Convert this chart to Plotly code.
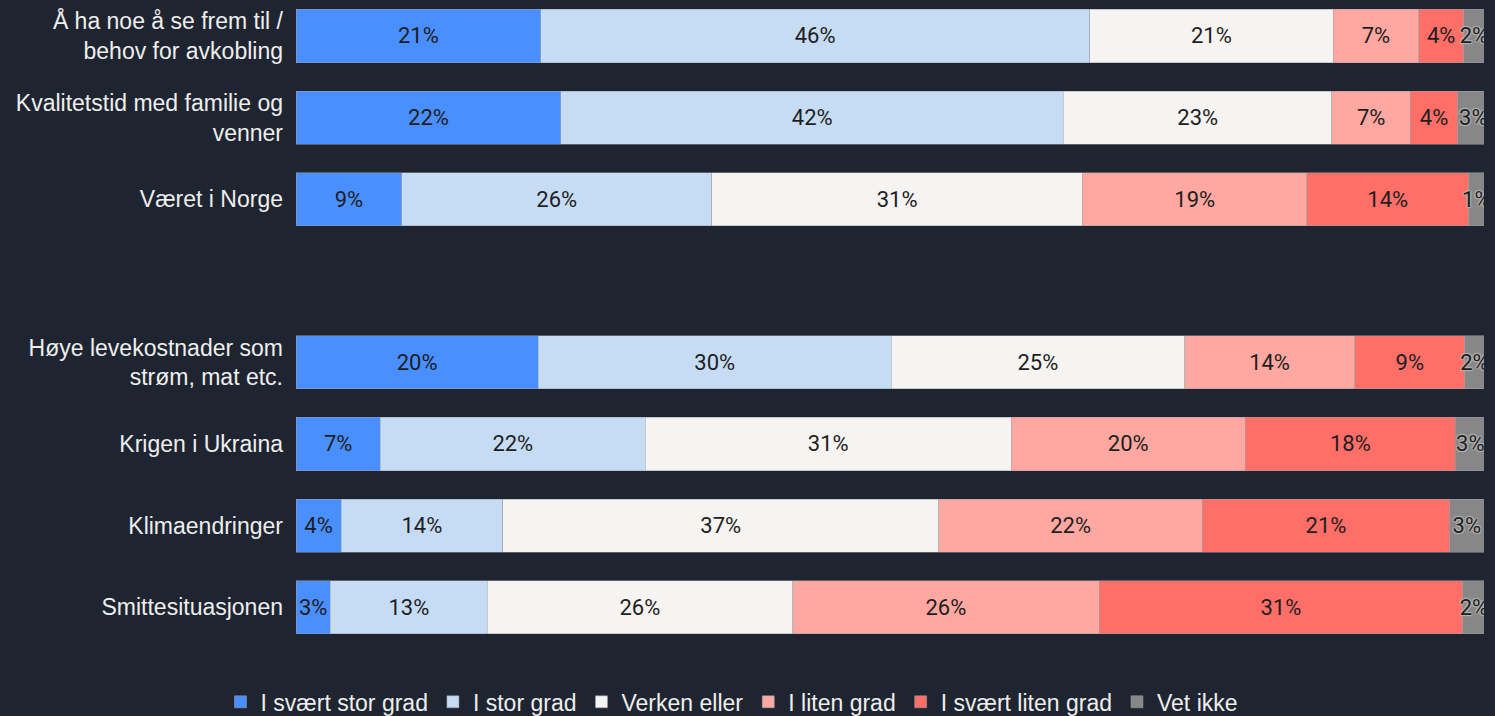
import plotly.graph_objects as go

# categories top to bottom; the blank entry is a spacer row
categories = [
    'Å ha noe å se frem til /<br>behov for avkobling',
    'Kvalitetstid med familie og<br>venner',
    'Været i Norge',
    ' ',
    'Høye levekostnader som<br>strøm, mat etc.',
    'Krigen i Ukraina',
    'Klimaendringer',
    'Smittesituasjonen',
]

svaert_stor = [20.6, 22.3, 8.9, None, 20.4, 7.1, 3.8, 2.9]
stor = [46.2, 42.3, 26.1, None, 29.7, 22.3, 13.6, 13.2]
verken = [20.5, 22.6, 31.2, None, 24.7, 30.8, 36.7, 25.7]
liten = [7.2, 6.6, 18.9, None, 14.3, 19.7, 22.2, 25.8]
svaert_liten = [3.8, 4.0, 13.6, None, 9.3, 17.7, 20.8, 30.6]
vet_ikke = [1.7, 2.6, 1.3, None, 1.6, 2.5, 2.9, 1.9]

series = [
    ('I svært stor grad', svaert_stor, '#4a8fff'),
    ('I stor grad', stor, '#c6dcf5'),
    ('Verken eller', verken, '#f5f4f2'),
    ('I liten grad', liten, '#ffa8a1'),
    ('I svært liten grad', svaert_liten, '#ff6f68'),
    ('Vet ikke', vet_ikke, '#878787'),
]

fig = go.Figure()
for name, values, color in series:
    shadow = 'none'
    if name == 'Vet ikke':
        # the grey segment's labels get a light halo in the original
        shadow = '-1px -1px 1px #b0b0b0, 1px -1px 1px #b0b0b0, -1px 1px 1px #b0b0b0, 1px 1px 1px #b0b0b0'
    fig.add_trace(go.Bar(
        y=categories,
        x=values,
        name=name,
        orientation='h',
        marker=dict(color=color, line=dict(color='#9aa0a8', width=0.5)),
        texttemplate='%{x:.0f}%',
        textposition='inside',
        insidetextanchor='middle',
        textangle=0,
        constraintext='none',
        textfont=dict(family='Roboto', size=22, color='#1e1e1e', shadow=shadow),
        hoverinfo='skip',
    ))

fig.update_layout(
    barmode='stack',
    bargap=0.35,
    width=1495,
    height=716,
    paper_bgcolor='#1f2530',
    plot_bgcolor='#1f2530',
    margin=dict(l=296, r=11, t=0, b=68, autoexpand=False),
    font=dict(family='Liberation Sans, Arial', size=23, color='#eeeeee'),
    legend=dict(
        orientation='h',
        x=0.367,
        xanchor='center',
        y=-0.05,
        yanchor='top',
        font=dict(size=23, color='#eeeeee'),
        traceorder='normal',
    ),
    xaxis=dict(range=[0, 100], visible=False, fixedrange=True),
    yaxis=dict(
        categoryorder='array',
        categoryarray=categories,
        range=[7.5, -0.441],
        showgrid=False,
        ticks='',
        ticklabelstandoff=12,
        tickfont=dict(size=23, color='#eeeeee'),
    ),
)

fig.write_html('out.html', config={'displayModeBar': False},
               post_script="document.body.style.margin='0';document.body.style.overflow='hidden';")
